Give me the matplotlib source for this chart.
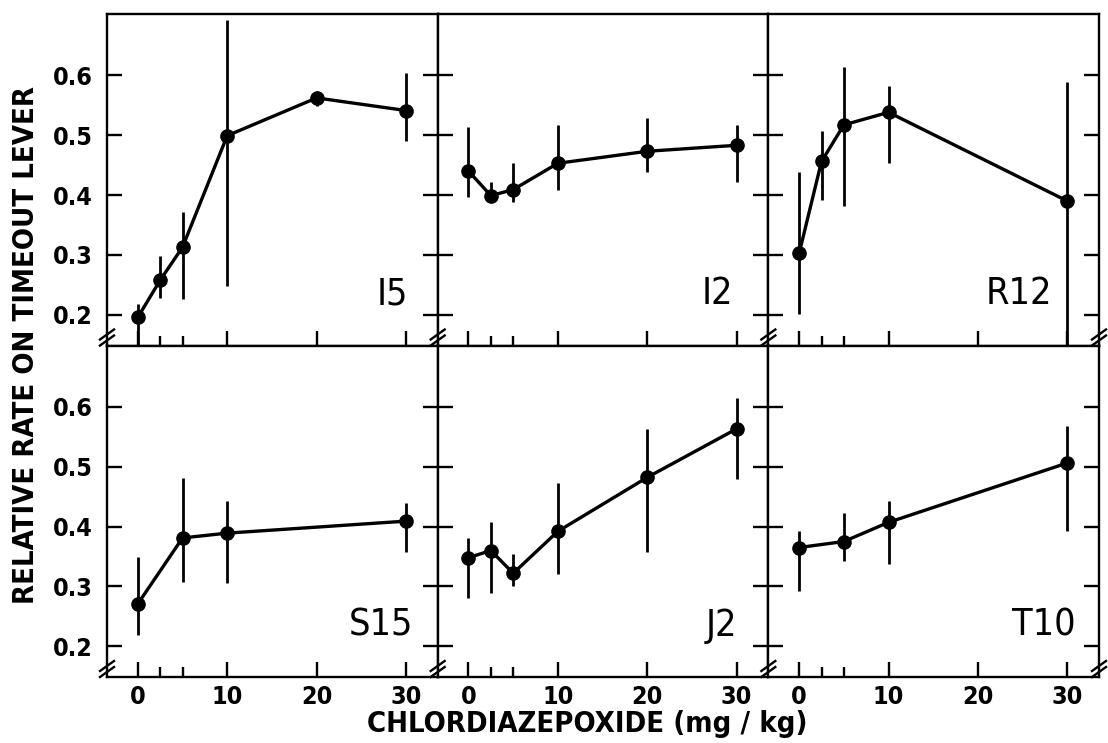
import matplotlib
matplotlib.use("Agg")
import matplotlib.pyplot as plt
from matplotlib.lines import Line2D
import numpy as np

# dose (mg/kg), mean relative rate, and the low / high ends of each error bar
I5_dose = [0, 2.5, 5, 10, 20, 30]
I5_rate = [0.196, 0.258, 0.313, 0.499, 0.562, 0.541]
I5_lo = [0.14, 0.228, 0.227, 0.249, 0.549, 0.490]
I5_hi = [0.218, 0.299, 0.372, 0.692, 0.573, 0.604]

I2_dose = [0, 2.5, 5, 10, 20, 30]
I2_rate = [0.440, 0.399, 0.409, 0.453, 0.473, 0.483]
I2_lo = [0.396, 0.390, 0.389, 0.409, 0.439, 0.422]
I2_hi = [0.514, 0.421, 0.453, 0.516, 0.528, 0.516]

R12_dose = [0, 2.5, 5, 10, 30]
R12_rate = [0.303, 0.456, 0.517, 0.538, 0.390]
R12_lo = [0.202, 0.392, 0.381, 0.453, 0.14]
R12_hi = [0.438, 0.506, 0.614, 0.582, 0.589]

S15_dose = [0, 5, 10, 30]
S15_rate = [0.271, 0.381, 0.389, 0.409]
S15_lo = [0.219, 0.308, 0.306, 0.358]
S15_hi = [0.349, 0.481, 0.442, 0.440]

J2_dose = [0, 2.5, 5, 10, 20, 30]
J2_rate = [0.348, 0.360, 0.322, 0.392, 0.482, 0.563]
J2_lo = [0.281, 0.289, 0.301, 0.321, 0.358, 0.479]
J2_hi = [0.381, 0.408, 0.354, 0.472, 0.562, 0.614]

T10_dose = [0, 5, 10, 30]
T10_rate = [0.365, 0.375, 0.407, 0.506]
T10_lo = [0.292, 0.342, 0.338, 0.393]
T10_hi = [0.393, 0.422, 0.443, 0.567]

panels = [
    ("I5", I5_dose, I5_rate, I5_lo, I5_hi),
    ("I2", I2_dose, I2_rate, I2_lo, I2_hi),
    ("R12", R12_dose, R12_rate, R12_lo, R12_hi),
    ("S15", S15_dose, S15_rate, S15_lo, S15_hi),
    ("J2", J2_dose, J2_rate, J2_lo, J2_hi),
    ("T10", T10_dose, T10_rate, T10_lo, T10_hi),
]
label_x = [0.91, 0.895, 0.857, 0.925, 0.905, 0.93]

y_ticks = [0.2, 0.3, 0.4, 0.5, 0.6]
y_ticklabels = ["0.2", "0.3", "0.4", "0.5", "0.6"]
x_major = [0, 10, 20, 30]
x_minor = [2.5, 5]
x_ticklabels = ["0", "10", "20", "30"]

plt.rcParams["font.family"] = ["DejaVu Sans"]
plt.rcParams["font.stretch"] = "condensed"

W, H = 1108, 743
fig = plt.figure(figsize=(W / 100, H / 100), dpi=100)

left_px, right_px = 107, 1099
top_px, bot_px = 14, 677
pw = (right_px - left_px) / 3
ph = (bot_px - top_px) / 2

for i, (name, dose, rate, lo, hi) in enumerate(panels):
    r, c = divmod(i, 3)
    x0 = (left_px + c * pw) / W
    y0 = (H - top_px - (r + 1) * ph) / H
    ax = fig.add_axes([x0, y0, pw / W, ph / H])
    rate = np.array(rate)
    yerr = [rate - np.array(lo), np.array(hi) - rate]
    ax.errorbar(dose, rate, yerr=yerr, fmt="o-", color="black", ms=9.5,
                lw=2.4, elinewidth=2.0, capsize=0, zorder=3)
    ax.set_xlim(-3.45, 33.55)
    ax.set_ylim(0.149, 0.702)
    ax.set_yticks(y_ticks)
    ax.set_xticks(x_major)
    ax.set_xticks(x_minor, minor=True)
    ax.tick_params(axis="y", which="both", direction="in", left=True, right=True,
                   length=11, width=1.7)
    ax.tick_params(axis="x", which="major", direction="in", top=False, length=11, width=1.7)
    ax.tick_params(axis="x", which="minor", direction="in", top=False, length=7.5, width=1.7)
    if c == 0:
        ax.set_yticklabels(y_ticklabels, fontsize=18, fontweight="bold")
        ax.tick_params(axis="y", pad=10)
    else:
        ax.set_yticklabels([])
    if r == 1:
        ax.set_xticklabels(x_ticklabels, fontsize=18, fontweight="bold")
        ax.tick_params(axis="x", pad=6)
    else:
        ax.set_xticklabels([])
    for s in ax.spines.values():
        s.set_linewidth(1.7)
    ax.text(label_x[i], 0.1, name, transform=ax.transAxes, ha="right",
            va="bottom", fontsize=27)

# axis-break marks ("//") where the frames meet
def break_mark(xp, yp):
    for off in (-3, 3):
        fig.add_artist(Line2D([(xp - 7) / W, (xp + 7) / W],
                              [(H - yp - 5 + off) / H, (H - yp + 5 + off) / H],
                              color="black", lw=1.7))

for row_bottom in (top_px + ph, bot_px):
    for c in range(4):
        break_mark(left_px + c * pw, row_bottom - 8)

fig.text(0.53, 0.026, "CHLORDIAZEPOXIDE (mg / kg)", ha="center", va="center",
         fontsize=21, fontweight="bold")
fig.text(0.0235, 0.536, "RELATIVE RATE ON TIMEOUT LEVER", ha="center",
         va="center", rotation=90, fontsize=21, fontweight="bold")

fig.savefig("out.png", dpi=100)
